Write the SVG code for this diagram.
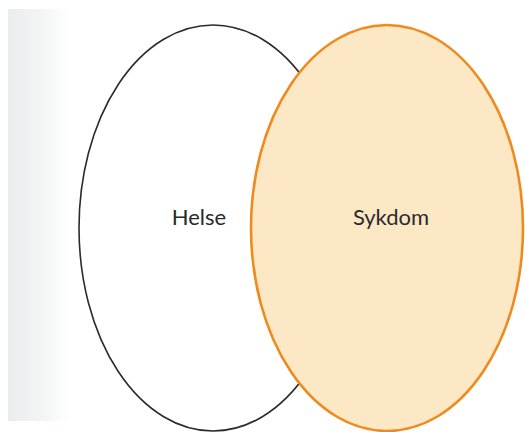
<svg xmlns="http://www.w3.org/2000/svg" width="525" height="432" viewBox="0 0 525 432">
  <defs>
    <linearGradient id="scan" x1="0" y1="0" x2="1" y2="0">
      <stop offset="0" stop-color="#e9eded"/>
      <stop offset="0.5" stop-color="#f1f4f4"/>
      <stop offset="1" stop-color="#ffffff"/>
    </linearGradient>
  </defs>
  <style>
    .lbl { font-family: Lato, "Open Sans", "Liberation Sans", sans-serif; font-size: 22px; fill: #2a2a2a; text-anchor: middle; }
    .helse { fill: #ffffff; stroke: #2b2b2b; stroke-width: 1.6; }
    .sykdom { fill: #fde8c6; stroke: #ee8a1e; stroke-width: 2.6; }
  </style>
  <rect width="525" height="432" fill="#ffffff"/>
  <rect x="8" y="9" width="62" height="412" fill="url(#scan)"/>
  <g id="helse">
    <ellipse class="helse" cx="213" cy="228" rx="134" ry="203"/>
    <text class="lbl" x="199" y="225">Helse</text>
  </g>
  <g id="sykdom">
    <ellipse class="sykdom" cx="387" cy="228" rx="136" ry="203"/>
    <text class="lbl" x="391" y="225">Sykdom</text>
  </g>
  <g id="connectors"/>
</svg>
